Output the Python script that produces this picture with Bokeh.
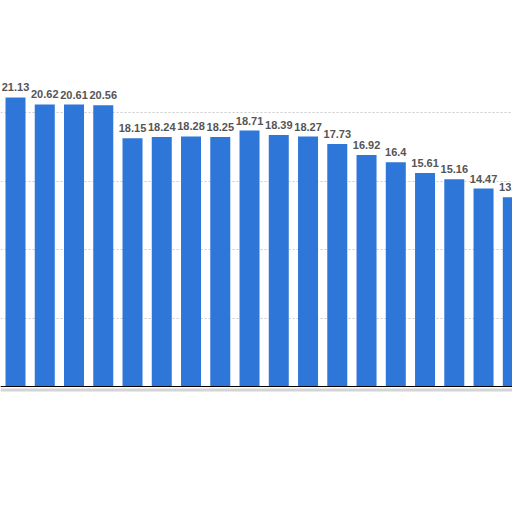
from bokeh.plotting import figure
from bokeh.models import ColumnDataSource, Span
from bokeh.embed import file_html
from bokeh.resources import INLINE
from bokeh.core.properties import value

# Data read from the (cropped) reference
positions = list(range(18))
values = [21.13, 20.62, 20.61, 20.56, 18.15, 18.24, 18.28, 18.25, 18.71,
          18.39, 18.27, 17.73, 16.92, 16.4, 15.61, 15.16, 14.47, 13.84]
value_labels = ["21.13", "20.62", "20.61", "20.56", "18.15", "18.24", "18.28",
                "18.25", "18.71", "18.39", "18.27", "17.73", "16.92", "16.4",
                "15.61", "15.16", "14.47", "13.84"]
grid_ticks = [5, 10, 15, 20]

src = ColumnDataSource(dict(x=positions, top=values, label=value_labels))

p = figure(width=512, height=512, output_backend="svg", toolbar_location=None,
           x_range=(-0.513, 16.99), y_range=(-9.21, 28.22), min_border=0,
           background_fill_color="white", border_fill_color="white")
p.xaxis.visible = False
p.yaxis.visible = False
p.xgrid.visible = False
p.ygrid.ticker = grid_ticks
p.ygrid.grid_line_color = "#cccccc"
p.ygrid.grid_line_dash = "2 2"
p.ygrid.grid_line_width = 1
p.outline_line_color = None

p.vbar(x="x", top="top", bottom=0, width=0.684, source=src,
       fill_color="#2e77d9", line_color=None)

p.text(x="x", y="top", text="label", source=src, text_align="center",
       text_baseline="bottom", y_offset=-6, text_font=value("Liberation Sans"),
       text_font_style="bold", text_font_size="11px", text_color="#555555")

p.add_layout(Span(location=-0.25, dimension="width", line_color="#d4d4d4", line_width=3))
p.add_layout(Span(location=0, dimension="width", line_color="#000000", line_width=1.2))

open("out.html", "w").write(file_html(p, INLINE))
